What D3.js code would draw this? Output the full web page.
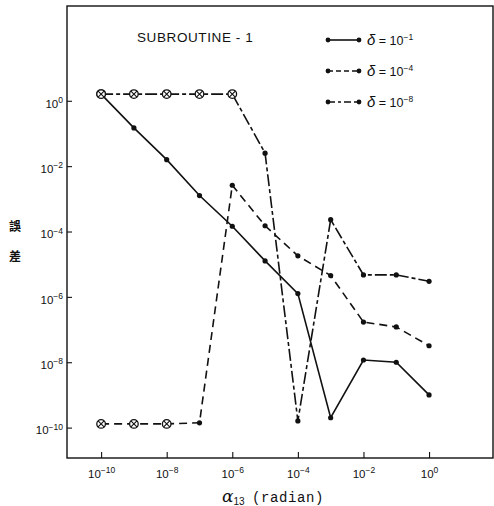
<!DOCTYPE html>
<html>
<head>
<meta charset="utf-8">
<script src="https://cdn.jsdelivr.net/npm/d3@7"></script>
<style>
  body { margin: 0; background: #fff; }
  svg { display: block; }
</style>
</head>
<body>
<svg id="chart" width="494" height="506"></svg>
<script>
//Chart values (x in radian, y is the error)
const alphaValues = [1e-10, 1e-9, 1e-8, 1e-7, 1e-6, 1e-5, 1e-4, 1e-3, 1e-2, 1e-1, 1e0];
const errDelta1 = [1.6, 0.148, 0.0158, 1.26e-3, 1.45e-4, 1.26e-5, 1.26e-6, 2.0e-10, 1.17e-8, 1.0e-8, 1.0e-9];
const errDelta4 = [1.3e-10, 1.3e-10, 1.3e-10, 1.4e-10, 2.6e-3, 1.5e-4, 1.8e-5, 4.5e-6, 1.7e-7, 1.2e-7, 3.2e-8];
const errDelta8 = [1.6, 1.6, 1.6, 1.6, 1.6, 2.5e-2, 1.6e-10, 2.3e-4, 4.7e-6, 4.7e-6, 3.0e-6];
//How many leading points are drawn as crossed circles
const crossedCount = [1, 3, 5];
const seriesNames = ['-1', '-4', '-8'];
const xTickExps = [-10, -8, -6, -4, -2, 0];
const yTickExps = [0, -2, -4, -6, -8, -10];

const plotLeft = 67, plotRight = 493, plotTop = 6, plotBottom = 458;
const ink = '#111';

var svg = d3.select('#chart');

var x = d3.scaleLog()
    .domain([Math.pow(10, -11.04), Math.pow(10, 1.95)])
    .range([plotLeft, plotRight]);
var y = d3.scaleLog()
    .domain([Math.pow(10, -10.93), Math.pow(10, 2.9)])
    .range([plotBottom, plotTop]);

//Frame
svg.append('rect')
    .attr('x', plotLeft).attr('y', plotTop)
    .attr('width', plotRight - plotLeft).attr('height', plotBottom - plotTop)
    .attr('fill', 'none')
    .attr('stroke', ink)
    .attr('stroke-width', 1.4);

//Superscript tick label "10^n"
function powerLabel(sel, exp) {
    sel.text('');
    sel.append('tspan').text('10');
    sel.append('tspan')
        .attr('dy', '-0.55em')
        .attr('font-size', 8.5)
        .text(exp == 0 ? '0' : '\u2212' + Math.abs(exp));
}

//X axis, ticks point inward
var xAxis = svg.append('g')
    .attr('transform', 'translate(0,' + plotBottom + ')')
    .call(d3.axisBottom(x)
        .tickValues(xTickExps.map(e => Math.pow(10, e)))
        .tickSize(-6)
        .tickPadding(12)
        .tickFormat(''));
xAxis.select('.domain').remove();
xAxis.selectAll('.tick line').attr('stroke', ink).attr('stroke-width', 1.1);
xAxis.selectAll('.tick text')
    .attr('font-family', 'Liberation Sans, Arial, sans-serif')
    .attr('font-size', 11.5)
    .attr('fill', ink)
    .each(function(d, i) { powerLabel(d3.select(this), xTickExps[i]); });

//Y axis, ticks point inward
var yAxis = svg.append('g')
    .attr('transform', 'translate(' + plotLeft + ',0)')
    .call(d3.axisLeft(y)
        .tickValues(yTickExps.map(e => Math.pow(10, e)))
        .tickSize(-5)
        .tickPadding(4)
        .tickFormat(''));
yAxis.select('.domain').remove();
yAxis.selectAll('.tick line').attr('stroke', ink).attr('stroke-width', 1.1);
yAxis.selectAll('.tick text')
    .attr('font-family', 'Liberation Sans, Arial, sans-serif')
    .attr('font-size', 11.5)
    .attr('fill', ink)
    .attr('dy', '0.55em')
    .each(function(d, i) { powerLabel(d3.select(this), yTickExps[i]); });

//Series
var series = [
    {name: seriesNames[0], values: errDelta1, dash: null, crossed: crossedCount[0]},
    {name: seriesNames[1], values: errDelta4, dash: '8,5', crossed: crossedCount[1]},
    {name: seriesNames[2], values: errDelta8, dash: '12,3,4,3', crossed: crossedCount[2]}
];

var line = d3.line()
    .x(d => x(d.a))
    .y(d => y(d.v));

series.forEach(function(s) {
    var pts = alphaValues.map((a, i) => ({a: a, v: s.values[i], crossed: i < s.crossed}));
    s.pts = pts;
    svg.append('path')
        .datum(pts)
        .attr('fill', 'none')
        .attr('stroke', ink)
        .attr('stroke-width', 1.6)
        .attr('stroke-dasharray', s.dash)
        .attr('d', line);
});

//Markers drawn after all lines
series.forEach(function(s) {
    var g = svg.append('g');
    g.selectAll('circle.dot')
        .data(s.pts.filter(p => !p.crossed))
        .enter().append('circle')
        .attr('class', 'dot')
        .attr('cx', d => x(d.a))
        .attr('cy', d => y(d.v))
        .attr('r', 2.6)
        .attr('fill', ink);
    var c = g.selectAll('g.cross')
        .data(s.pts.filter(p => p.crossed))
        .enter().append('g')
        .attr('class', 'cross')
        .attr('transform', d => 'translate(' + x(d.a) + ',' + y(d.v) + ')');
    c.append('circle').attr('r', 4.3).attr('fill', '#fff').attr('stroke', ink).attr('stroke-width', 1.3);
    c.append('path').attr('d', 'M-3,-3L3,3M-3,3L3,-3').attr('stroke', ink).attr('stroke-width', 1.1);
});

//Title
svg.append('text')
    .attr('x', 137).attr('y', 42)
    .attr('font-family', 'Liberation Sans, Arial, sans-serif')
    .attr('font-size', 13.5)
    .attr('letter-spacing', 0.6)
    .attr('fill', ink)
    .text('SUBROUTINE - 1');

//Legend
var legend = svg.append('g');
series.forEach(function(s, i) {
    var ly = 40 + i * 31;
    legend.append('line')
        .attr('x1', 328).attr('x2', 359)
        .attr('y1', ly).attr('y2', ly)
        .attr('stroke', ink).attr('stroke-width', 1.6)
        .attr('stroke-dasharray', i == 0 ? null : (i == 1 ? '5,3' : '7,3,3,3'));
    legend.selectAll(null).data([328, 359]).enter().append('circle')
        .attr('cx', d => d).attr('cy', ly).attr('r', 2.4).attr('fill', ink);
    var t = legend.append('text')
        .attr('x', 367).attr('y', ly + 5)
        .attr('font-family', 'Liberation Sans, Arial, sans-serif')
        .attr('font-size', 12.5)
        .attr('fill', ink);
    t.append('tspan').attr('font-size', 15).attr('font-style', 'italic').text('\u03b4');
    t.append('tspan').text(' = 10');
    t.append('tspan').attr('dy', '-0.55em').attr('font-size', 8.5).text('\u2212' + s.name.slice(1));
});

//X axis title
var xt = svg.append('text')
    .attr('x', 222).attr('y', 502)
    .attr('fill', ink);
xt.append('tspan')
    .attr('font-family', 'DejaVu Serif, serif')
    .attr('font-style', 'italic')
    .attr('font-size', 17)
    .text('\u03b1');
xt.append('tspan')
    .attr('font-family', 'Liberation Sans, Arial, sans-serif')
    .attr('font-size', 10)
    .attr('dy', 3)
    .text('13');
xt.append('tspan')
    .attr('font-family', 'Liberation Mono, monospace')
    .attr('font-size', 14)
    .attr('letter-spacing', 0.6)
    .attr('dy', -3)
    .attr('x', 252)
    .text('(radian)');

//Y axis title, stacked vertically
svg.selectAll('text.ytitle')
    .data(['誤', '差'])
    .enter().append('text')
    .attr('class', 'ytitle')
    .attr('x', 15)
    .attr('y', (d, i) => 231 + i * 30)
    .attr('text-anchor', 'middle')
    .attr('font-family', 'Noto Sans CJK TC, sans-serif')
    .attr('font-weight', 'bold')
    .attr('font-size', 12)
    .attr('fill', ink)
    .text(d => d);
</script>
</body>
</html>
